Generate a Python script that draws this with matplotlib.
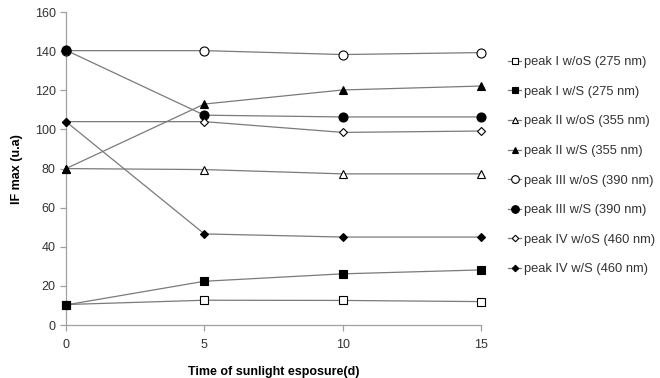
import matplotlib
matplotlib.use("Agg")
import matplotlib.pyplot as plt
from matplotlib.lines import Line2D

plt.rcParams['font.family'] = ['Liberation Sans', 'DejaVu Sans']

days = [0, 5, 10, 15]
peak1_woS = [10.5, 12.7, 12.6, 12.0]
peak1_wS = [10.3, 22.4, 26.2, 28.2]
peak2_woS = [80.0, 79.5, 77.3, 77.3]
peak2_wS = [80.0, 113.0, 120.2, 122.2]
peak3_woS = [140.3, 140.3, 138.3, 139.3]
peak3_wS = [140.5, 107.3, 106.4, 106.4]
peak4_woS = [104.0, 104.0, 98.5, 99.2]
peak4_wS = [104.0, 46.6, 45.0, 45.0]

labels = ["peak I w/oS (275 nm)", "peak I w/S (275 nm)", "peak II w/oS (355 nm)",
          "peak II w/S (355 nm)", "peak III w/oS (390 nm)", "peak III w/S (390 nm)",
          "peak IV w/oS (460 nm)", "peak IV w/S (460 nm)"]
series = [peak1_woS, peak1_wS, peak2_woS, peak2_wS, peak3_woS, peak3_wS, peak4_woS, peak4_wS]
markers = ['s', 's', '^', '^', 'o', 'o', 'D', 'D']
fills = ['white', 'black', 'white', 'black', 'white', 'black', 'white', 'black']
sizes = [5.5, 5.5, 5.5, 5.5, 6.5, 6.5, 4.3, 4.3]

fig = plt.figure(figsize=(6.6, 3.78), dpi=100)
ax = fig.add_axes([0.1, 0.14, 0.629, 0.828])

handles = []
for ys, lab, m, fc, ms in zip(series, labels, markers, fills, sizes):
    ax.plot(days, ys, color='#7a7a7a', lw=0.9, zorder=1)
    ax.plot(days, ys, ls='none', marker=m, mfc=fc, mec='black', mew=0.8, ms=ms, zorder=3,
            clip_on=False)
    handles.append(Line2D([], [], color='#7a7a7a', lw=0.9, marker=m, mfc=fc, mec='black',
                          mew=0.8, ms=ms - 1))

ax.set_xlim(0, 15)
ax.set_ylim(0, 160)
ax.set_xticks([0, 5, 10, 15])
ax.set_yticks(range(0, 161, 20))
for s in ['top', 'right']:
    ax.spines[s].set_visible(False)
for s in ['left', 'bottom']:
    ax.spines[s].set_color('#a0a0a0')
    ax.spines[s].set_linewidth(0.9)
ax.tick_params(axis='both', colors='#a0a0a0', labelcolor='#333333', labelsize=9,
               length=4, width=0.9)
ax.tick_params(axis='x', pad=6)
ax.set_xlabel("Time of sunlight esposure(d)", fontsize=9, fontweight='bold', labelpad=11)
ax.set_ylabel("IF max (u.a)", fontsize=9, fontweight='bold', labelpad=8)

fig.legend(handles, labels, loc='upper left', bbox_to_anchor=(0.762, 0.865), frameon=False,
           fontsize=9.3, handlelength=1.0, handletextpad=0.2, labelspacing=1.36,
           borderaxespad=0, labelcolor='#333333')

fig.savefig("out.png", dpi=100)
